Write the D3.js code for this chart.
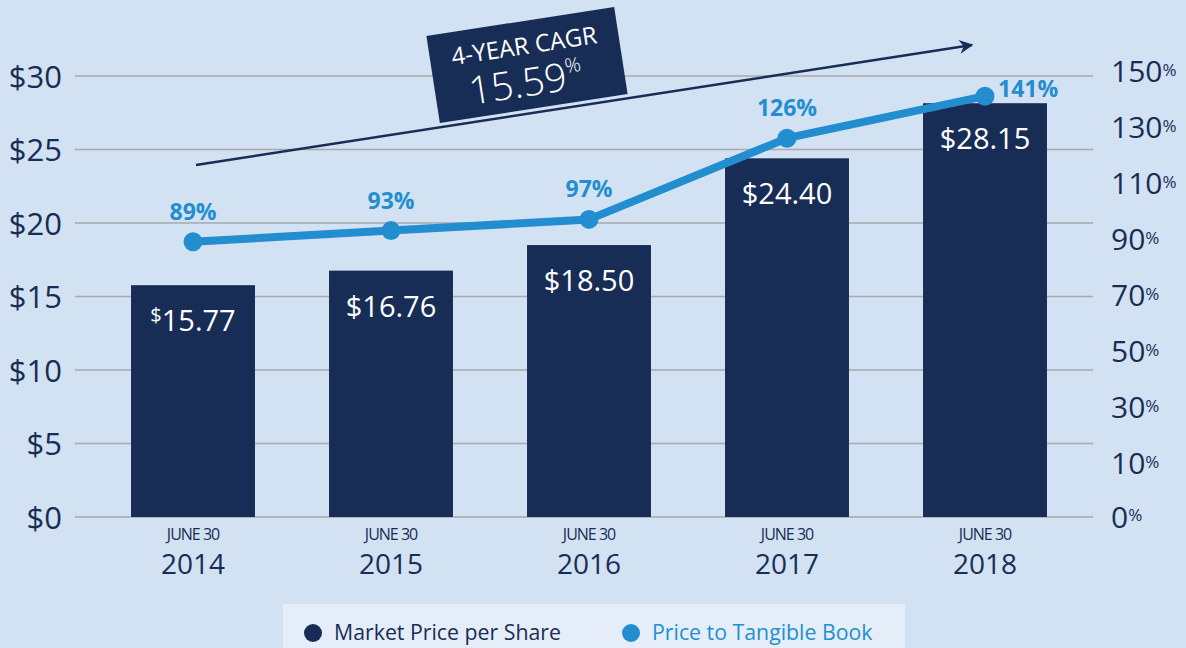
<!DOCTYPE html>
<html>
<head>
<meta charset="utf-8">
<script src="https://cdn.jsdelivr.net/npm/d3@7"></script>
<style>
  html, body { margin: 0; padding: 0; background: #d2e2f2; }
  svg { display: block; font-family: "Open Sans", sans-serif; }
</style>
</head>
<body>
<div id="canvas"></div>
<script>
"use strict";

let svgWidth = 1186;
let svgHeight = 648;

// data
let years = ["2014", "2015", "2016", "2017", "2018"];
let prices = [15.77, 16.76, 18.50, 24.40, 28.15];
let ptb = [89, 93, 97, 126, 141];
let priceTicks = [0, 5, 10, 15, 20, 25, 30];
let pctTicks = [10, 30, 50, 70, 90, 110, 130, 150];
let cagrText = "15.59";

let navy = "#182d55";
let blue = "#238ecf";
let grid = "#a7a9ac";

let svg = d3.select("#canvas")
  .append("svg")
  .attr("width", svgWidth)
  .attr("height", svgHeight);

svg.append("rect")
  .attr("width", svgWidth)
  .attr("height", svgHeight)
  .attr("fill", "#d2e2f2");

// scales
let xScale = d3.scaleBand()
  .domain(years)
  .range([94, 1084])
  .paddingInner(0.374)
  .paddingOuter(0.187);

let yPrice = d3.scaleLinear()
  .domain([0, 30])
  .range([517, 76]);

// right axis: 0% label sits on the baseline, the rest follow this scale
let yPct = d3.scaleLinear()
  .domain([0, 150])
  .range([491, 71]);

// gridlines
svg.append("g")
  .selectAll("line")
  .data(priceTicks)
  .enter()
  .append("line")
  .attr("x1", 75)
  .attr("x2", 1093)
  .attr("y1", function(d){ return yPrice(d); })
  .attr("y2", function(d){ return yPrice(d); })
  .attr("stroke", grid)
  .attr("stroke-width", 1.5);

// left axis
let leftAxis = svg.append("g")
  .attr("transform", "translate(62,0)")
  .call(d3.axisLeft(yPrice).tickValues(priceTicks).tickSize(0).tickPadding(0)
    .tickFormat(function(d){ return "$" + d; }));
leftAxis.select(".domain").remove();
leftAxis.selectAll("text")
  .attr("fill", navy)
  .style("font-size", "31px")
  .style("font-family", "Open Sans")
  .attr("dy", "0.36em");

// right axis
let rightAxis = svg.append("g")
  .attr("transform", "translate(1111,0)")
  .call(d3.axisRight(yPct).tickValues(pctTicks).tickSize(0).tickPadding(0)
    .tickFormat(function(d){ return d; }));
rightAxis.select(".domain").remove();
rightAxis.selectAll("text")
  .attr("fill", navy)
  .style("font-size", "30px")
  .style("font-family", "Open Sans")
  .attr("dy", "0.36em")
  .append("tspan")
  .style("font-size", "17px")
  .attr("dy", "-0.4em")
  .text("%");

let zeroLabel = svg.append("text")
  .attr("x", 1111)
  .attr("y", yPrice(0))
  .attr("dy", "0.36em")
  .attr("fill", navy)
  .style("font-size", "30px")
  .text("0");
zeroLabel.append("tspan")
  .style("font-size", "17px")
  .attr("dy", "-0.4em")
  .text("%");

// bars
svg.append("g")
  .selectAll("rect")
  .data(years)
  .enter()
  .append("rect")
  .attr("x", function(d){ return xScale(d); })
  .attr("y", function(d, i){ return yPrice(prices[i]); })
  .attr("width", xScale.bandwidth())
  .attr("height", function(d, i){ return yPrice(0) - yPrice(prices[i]); })
  .attr("fill", navy);

// bar labels (the first one has a small raised $ in the original)
let barLabels = svg.append("g")
  .selectAll("text")
  .data(years)
  .enter()
  .append("text")
  .attr("x", function(d){ return xScale(d) + xScale.bandwidth() / 2; })
  .attr("y", function(d, i){ return yPrice(prices[i]) + 46; })
  .attr("text-anchor", "middle")
  .attr("fill", "white")
  .style("font-size", "29px");
barLabels.append("tspan")
  .style("font-size", function(d, i){ return i === 0 ? "20px" : null; })
  .attr("dy", function(d, i){ return i === 0 ? "-0.45em" : null; })
  .text("$");
barLabels.append("tspan")
  .attr("dy", function(d, i){ return i === 0 ? "0.31em" : null; })
  .text(function(d, i){ return prices[i].toFixed(2); });

// x labels
let xLabels = svg.append("g")
  .selectAll("g")
  .data(years)
  .enter()
  .append("g")
  .attr("transform", function(d){
    return "translate(" + (xScale(d) + xScale.bandwidth() / 2) + ",0)";
  });
xLabels.append("text")
  .attr("y", 540)
  .attr("text-anchor", "middle")
  .attr("fill", navy)
  .style("font-size", "16px")
  .style("letter-spacing", "-1px")
  .text("JUNE 30");
xLabels.append("text")
  .attr("y", 574)
  .attr("text-anchor", "middle")
  .attr("fill", navy)
  .style("font-size", "28px")
  .text(function(d){ return d; });

// line
let cx = function(d, i){ return xScale(years[i]) + xScale.bandwidth() / 2; };
let line = d3.line()
  .x(cx)
  .y(function(d){ return yPct(d); });

svg.append("path")
  .datum(ptb)
  .attr("d", line)
  .attr("fill", "none")
  .attr("stroke", blue)
  .attr("stroke-width", 8)
  .attr("stroke-linejoin", "round");

svg.append("g")
  .selectAll("circle")
  .data(ptb)
  .enter()
  .append("circle")
  .attr("cx", cx)
  .attr("cy", function(d){ return yPct(d); })
  .attr("r", 9.5)
  .attr("fill", blue);

// percentage labels, last one sits to the right of its point
let last = ptb.length - 1;
svg.append("g")
  .selectAll("text")
  .data(ptb)
  .enter()
  .append("text")
  .attr("x", function(d, i){ return i === last ? cx(d, i) + 13 : cx(d, i); })
  .attr("y", function(d, i){ return i === last ? yPct(d) + 1 : yPct(d) - 22; })
  .attr("text-anchor", function(d, i){ return i === last ? "start" : "middle"; })
  .attr("fill", blue)
  .style("font-size", "23px")
  .style("font-weight", "bold")
  .text(function(d){ return d + "%"; });

// CAGR arrow
svg.append("defs")
  .append("marker")
  .attr("id", "arrow")
  .attr("viewBox", "0 0 10 10")
  .attr("refX", 9)
  .attr("refY", 5)
  .attr("markerWidth", 22)
  .attr("markerHeight", 14)
  .attr("markerUnits", "userSpaceOnUse")
  .attr("orient", "auto")
  .append("path")
  .attr("d", "M0,0 L10,5 L0,10 L3,5 Z")
  .attr("fill", navy);

svg.append("line")
  .attr("x1", 196)
  .attr("y1", 165)
  .attr("x2", 972)
  .attr("y2", 45)
  .attr("stroke", navy)
  .attr("stroke-width", 2.5)
  .attr("marker-end", "url(#arrow)");

// CAGR box
let box = svg.append("g")
  .attr("transform", "translate(527,65) rotate(-8.8)");
box.append("rect")
  .attr("x", -95)
  .attr("y", -44)
  .attr("width", 190)
  .attr("height", 88)
  .attr("fill", navy);
box.append("text")
  .attr("x", 0)
  .attr("y", -11)
  .attr("text-anchor", "middle")
  .attr("fill", "white")
  .style("font-size", "24px")
  .text("4-YEAR CAGR");
let cagr = box.append("text")
  .attr("x", -4)
  .attr("y", 31)
  .attr("text-anchor", "middle")
  .attr("fill", "white")
  .style("font-size", "39px")
  .style("font-weight", "300")
  .text(cagrText);
cagr.append("tspan")
  .style("font-size", "20px")
  .attr("dy", "-0.85em")
  .text("%");

// legend
svg.append("rect")
  .attr("x", 283)
  .attr("y", 604)
  .attr("width", 622)
  .attr("height", 50)
  .attr("fill", "#e5eef8");

let legendItems = [
  { label: "Market Price per Share", color: navy, x: 313 },
  { label: "Price to Tangible Book", color: blue, x: 631 }
];
for (let i = 0; i < legendItems.length; i++) {
  svg.append("circle")
    .attr("cx", legendItems[i].x)
    .attr("cy", 633)
    .attr("r", 9)
    .attr("fill", legendItems[i].color);
  svg.append("text")
    .attr("x", legendItems[i].x + 21)
    .attr("y", 640)
    .attr("fill", legendItems[i].color)
    .style("font-size", "21.3px")
    .text(legendItems[i].label);
}
</script>
</body>
</html>
